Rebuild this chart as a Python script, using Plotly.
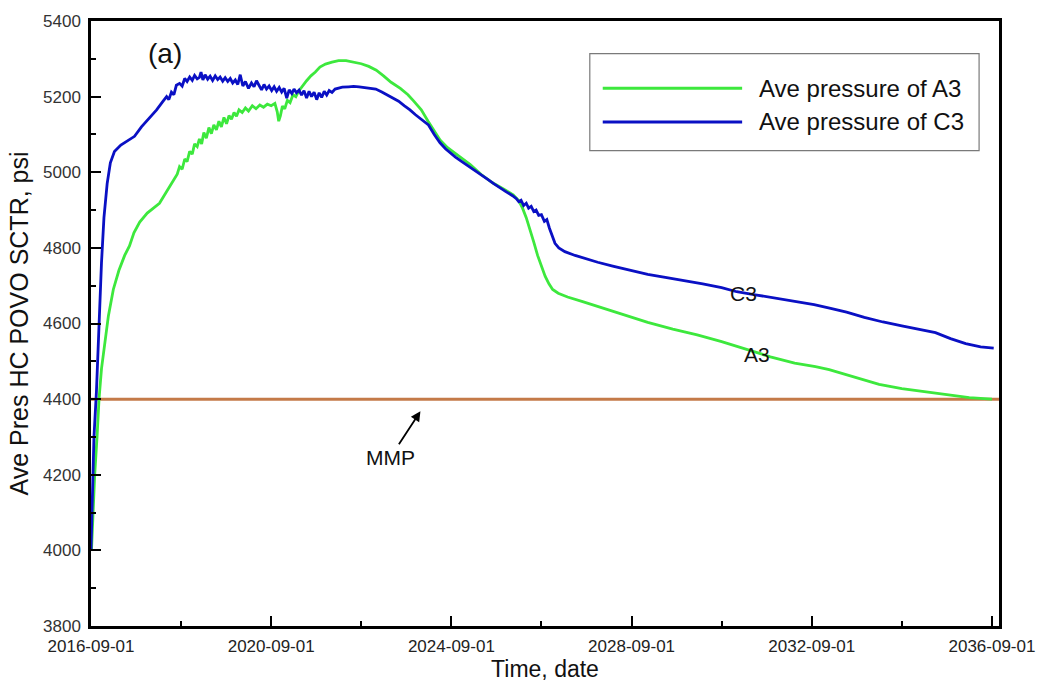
import plotly.graph_objects as go

# ---------------- data ----------------
c3_dates = [
    "2016-09-01", "2016-09-10", "2016-09-25", "2016-10-15", "2016-11-05", "2016-11-25",
    "2016-12-15", "2017-01-10", "2017-02-05", "2017-03-10", "2017-05-01", "2017-07-01",
    "2017-08-20", "2017-10-15", "2017-12-20", "2018-02-15", "2018-04-01", "2018-05-07",
    "2018-05-25", "2018-06-15", "2018-07-05", "2018-07-25", "2018-08-20", "2018-09-10",
    "2018-10-01", "2018-10-20", "2018-11-10", "2018-12-01", "2018-12-20", "2019-01-10",
    "2019-01-28", "2019-02-10", "2019-02-25", "2019-03-15", "2019-04-05", "2019-04-25",
    "2019-05-15", "2019-06-05", "2019-06-25", "2019-07-15", "2019-08-05", "2019-08-25",
    "2019-09-15", "2019-10-05", "2019-10-25", "2019-11-15", "2019-12-05", "2019-12-25",
    "2020-01-15", "2020-02-05", "2020-03-01", "2020-03-25", "2020-04-15", "2020-05-05",
    "2020-05-25", "2020-06-15", "2020-07-05", "2020-07-25", "2020-08-15", "2020-09-05",
    "2020-09-25", "2020-10-15", "2020-11-05", "2020-11-25", "2020-12-15", "2021-01-05",
    "2021-01-25", "2021-02-15", "2021-03-05", "2021-03-25", "2021-04-15", "2021-05-05",
    "2021-05-25", "2021-06-15", "2021-07-05", "2021-07-25", "2021-08-15", "2021-09-05",
    "2021-09-25", "2021-10-15", "2021-11-05", "2021-11-25", "2021-12-15", "2022-01-07",
    "2022-02-01", "2022-03-01", "2022-04-01", "2022-05-22", "2022-07-01", "2022-08-15",
    "2022-10-01", "2022-11-15", "2022-12-28", "2023-02-15", "2023-04-01", "2023-05-15",
    "2023-07-01", "2023-08-15", "2023-10-01", "2023-11-15", "2024-01-01", "2024-02-28",
    "2024-04-15", "2024-06-01", "2024-07-15", "2024-08-25", "2024-10-04", "2024-11-25",
    "2025-01-20", "2025-03-10", "2025-05-01", "2025-06-20", "2025-08-10", "2025-10-01",
    "2025-11-20", "2026-01-10", "2026-02-10", "2026-03-01", "2026-03-20", "2026-04-10",
    "2026-05-01", "2026-05-20", "2026-06-10", "2026-07-01", "2026-07-20", "2026-08-10",
    "2026-09-01", "2026-09-25", "2026-10-15", "2026-11-05", "2026-11-25", "2026-12-20",
    "2027-01-20", "2027-03-10", "2027-06-01", "2027-09-01", "2027-12-01", "2028-04-01",
    "2028-09-01", "2029-01-10", "2029-06-01", "2029-11-01", "2030-04-01", "2030-09-01",
    "2031-01-01", "2031-06-01", "2031-11-01", "2032-04-01", "2032-09-20", "2033-02-01",
    "2033-06-10", "2033-11-01", "2034-04-01", "2034-09-01", "2035-02-01", "2035-06-01",
    "2035-10-01", "2036-02-01", "2036-06-01", "2036-09-15",
]
c3_pressure = [
    4000, 4150, 4300, 4420, 4600, 4760,
    4880, 4970, 5025, 5055, 5072, 5085,
    5095, 5120, 5143, 5165, 5185, 5200,
    5192, 5212, 5205, 5230, 5235, 5228,
    5248, 5240, 5252, 5243, 5256, 5247,
    5251, 5265, 5244, 5258, 5246, 5254,
    5243, 5255, 5245, 5252, 5241, 5250,
    5240, 5248, 5236, 5244, 5232, 5258,
    5228, 5240, 5222, 5236, 5226, 5242,
    5230, 5218, 5232, 5220, 5228, 5216,
    5226, 5214, 5224, 5212, 5222, 5196,
    5218, 5208, 5220, 5210, 5217, 5204,
    5216, 5196, 5214, 5200, 5212, 5192,
    5210, 5198, 5214, 5204, 5216, 5211,
    5220, 5222, 5225, 5226, 5227, 5226,
    5224, 5223, 5220, 5212, 5204, 5198,
    5188, 5176, 5165, 5152, 5140, 5125,
    5100, 5078, 5062, 5050, 5040, 5028,
    5016, 5004, 4994, 4982, 4970, 4958,
    4948, 4938, 4930, 4922, 4926, 4912,
    4918, 4905, 4910, 4896, 4900, 4886,
    4888, 4870, 4875, 4852, 4835, 4812,
    4800, 4790, 4780, 4770, 4762, 4752,
    4740, 4730, 4722, 4714, 4705, 4695,
    4684, 4676, 4668, 4660, 4650, 4640,
    4630, 4616, 4604, 4594, 4585, 4576,
    4560, 4547, 4538, 4535,
]

a3_dates = [
    "2016-09-05", "2016-09-15", "2016-10-01", "2016-10-20", "2016-11-05", "2016-11-25",
    "2016-12-20", "2017-01-20", "2017-03-01", "2017-04-15", "2017-06-01", "2017-07-10",
    "2017-08-15", "2017-10-01", "2017-12-01", "2018-01-20", "2018-03-10", "2018-04-20",
    "2018-06-01", "2018-07-01", "2018-08-01", "2018-08-20", "2018-09-10", "2018-10-01",
    "2018-10-20", "2018-11-10", "2018-12-01", "2018-12-20", "2019-01-10", "2019-01-28",
    "2019-02-15", "2019-03-05", "2019-03-25", "2019-04-15", "2019-05-05", "2019-05-25",
    "2019-06-15", "2019-07-05", "2019-07-25", "2019-08-15", "2019-09-05", "2019-09-25",
    "2019-10-15", "2019-11-05", "2019-11-25", "2019-12-15", "2020-01-10", "2020-02-05",
    "2020-03-01", "2020-04-01", "2020-05-01", "2020-06-01", "2020-07-01", "2020-08-01",
    "2020-09-01", "2020-10-01", "2020-10-20", "2020-11-01", "2020-11-15", "2020-12-01",
    "2020-12-20", "2021-01-10", "2021-02-01", "2021-02-25", "2021-03-20", "2021-04-13",
    "2021-05-15", "2021-06-15", "2021-07-20", "2021-08-25", "2021-10-01", "2021-11-15",
    "2022-01-07", "2022-03-01", "2022-05-01", "2022-07-01", "2022-09-01", "2022-11-01",
    "2023-01-01", "2023-03-01", "2023-05-01", "2023-07-15", "2023-09-15", "2023-11-01",
    "2024-01-01", "2024-02-25", "2024-04-15", "2024-06-01", "2024-08-01", "2024-10-04",
    "2024-12-01", "2025-02-01", "2025-05-01", "2025-08-01", "2025-11-01", "2026-01-15",
    "2026-03-01", "2026-04-01", "2026-05-01", "2026-06-01", "2026-07-01", "2026-08-01",
    "2026-09-01", "2026-10-01", "2026-11-01", "2026-12-01", "2027-01-15", "2027-04-01",
    "2027-08-01", "2027-12-01", "2028-06-01", "2029-01-10", "2029-08-01", "2030-02-15",
    "2030-09-01", "2031-03-20", "2031-10-01", "2032-04-15", "2032-10-01", "2033-01-20",
    "2033-06-01", "2033-09-01", "2034-03-01", "2034-09-01", "2035-04-10", "2035-10-01",
    "2036-03-01", "2036-09-01",
]
a3_pressure = [
    4000, 4100, 4200, 4300, 4400, 4480,
    4540, 4620, 4690, 4740, 4780, 4805,
    4840, 4868, 4892, 4905, 4918, 4940,
    4962, 4978, 4995, 5015, 5008, 5035,
    5028, 5055, 5048, 5075, 5068, 5088,
    5075, 5105, 5090, 5118, 5102, 5125,
    5112, 5135, 5120, 5145, 5128, 5150,
    5140, 5158, 5148, 5165, 5158, 5170,
    5162, 5176, 5168, 5178, 5172, 5180,
    5176, 5182, 5160, 5135, 5150, 5175,
    5168, 5190, 5184, 5205, 5200, 5215,
    5230, 5242, 5255, 5265, 5278, 5286,
    5291, 5295, 5295, 5292, 5287, 5280,
    5270, 5255, 5238, 5222, 5205, 5188,
    5165, 5135, 5108, 5085, 5065, 5050,
    5035, 5020, 4994, 4972, 4955, 4940,
    4925, 4905, 4880, 4850, 4815, 4780,
    4750, 4725, 4705, 4690, 4680, 4670,
    4658, 4645, 4625, 4603, 4585, 4570,
    4552, 4531, 4512, 4495, 4486, 4478,
    4465, 4455, 4439, 4428, 4418, 4410,
    4404, 4400,
]

mmp_dates = ["2016-09-01", "2036-10-28"]
mmp_pressure = [4400, 4400]

x_tick_vals = ["2016-09-01", "2020-09-01", "2024-09-01", "2028-09-01", "2032-09-01", "2036-09-01"]
x_tick_text = ["2016-09-01", "2020-09-01", "2024-09-01", "2028-09-01", "2032-09-01", "2036-09-01"]
x_minor_vals = ["2018-09-01", "2022-09-01", "2026-09-01", "2030-09-01", "2034-09-01"]

series_names = ["Ave pressure of A3", "Ave pressure of C3"]

# ---------------- styles ----------------
GREEN = "#3DE83D"
BLUE = "#0A10C4"
BROWN = "#C47A48"
FONT = "Arial, Liberation Sans, sans-serif"

fig = go.Figure()
fig.add_trace(go.Scatter(x=mmp_dates, y=mmp_pressure, mode="lines", name="MMP",
                         line=dict(color=BROWN, width=3), showlegend=False))
fig.add_trace(go.Scatter(x=a3_dates, y=a3_pressure, mode="lines", name=series_names[0],
                         line=dict(color=GREEN, width=2.8), showlegend=False))
fig.add_trace(go.Scatter(x=c3_dates, y=c3_pressure, mode="lines", name=series_names[1],
                         line=dict(color=BLUE, width=2.8), showlegend=False))

L, R, T, B = 91, 44, 15, 63
W, H = 1047, 689
pw, ph = W - L - R, H - T - B


def px(xp):
    return (xp - L) / pw


def py(yp):
    return 1 - (yp - T) / ph


shapes = [
    dict(type="rect", xref="paper", yref="paper", x0=px(592), x1=px(983), y0=py(146), y1=py(48),
         line=dict(color="#7a7a7a", width=1.2), fillcolor="white", layer="above"),
    dict(type="line", xref="paper", yref="paper", x0=px(605), x1=px(745), y0=py(83), y1=py(83),
         line=dict(color=GREEN, width=3)),
    dict(type="line", xref="paper", yref="paper", x0=px(605), x1=px(745), y0=py(117), y1=py(117),
         line=dict(color=BLUE, width=3)),
]

annotations = [
    dict(xref="paper", yref="paper", x=px(760), y=py(83), xanchor="left", yanchor="middle",
         text=series_names[0], showarrow=False, font=dict(size=24, color="#111", family=FONT)),
    dict(xref="paper", yref="paper", x=px(760), y=py(117), xanchor="left", yanchor="middle",
         text=series_names[1], showarrow=False, font=dict(size=24, color="#111", family=FONT)),
    dict(xref="paper", yref="paper", x=px(165), y=py(48), xanchor="center", yanchor="middle",
         text="(a)", showarrow=False, font=dict(size=28, color="#111", family=FONT)),
    dict(x="2023-12-25", y=4368, text="MMP", showarrow=True, arrowhead=2, arrowsize=1.1,
         arrowwidth=1.8, arrowcolor="black", ax=-30, ay=46,
         font=dict(size=21, color="#111", family=FONT)),
    dict(x="2031-03-01", y=4680, text="C3", showarrow=False,
         font=dict(size=21, color="#111", family=FONT)),
    dict(x="2031-06-15", y=4517, text="A3", showarrow=False,
         font=dict(size=21, color="#111", family=FONT)),
]

fig.update_layout(
    width=W, height=H,
    margin=dict(l=L, r=R, t=T, b=B, pad=0),
    paper_bgcolor="white", plot_bgcolor="white",
    font=dict(family=FONT, color="#222"),
    shapes=shapes, annotations=annotations,
    showlegend=False,
)
fig.update_xaxes(
    range=["2016-09-01", "2036-10-28"],
    tickmode="array", tickvals=x_tick_vals, ticktext=x_tick_text,
    ticks="inside", ticklen=10, tickwidth=2, tickcolor="black",
    minor=dict(tickmode="array", tickvals=x_minor_vals, ticks="inside", ticklen=5,
               tickwidth=2, tickcolor="black", showgrid=False),
    showline=True, linewidth=2.5, linecolor="black", mirror=True,
    showgrid=False, zeroline=False, ticklabelstandoff=3,
    tickfont=dict(size=17, color="#222", family=FONT),
    title=dict(text="Time, date", font=dict(size=23, color="#111", family=FONT), standoff=2),
)
fig.update_yaxes(
    range=[3800, 5400], dtick=200, tick0=3800,
    ticks="inside", ticklen=10, tickwidth=2, tickcolor="black",
    minor=dict(dtick=100, ticks="inside", ticklen=5, tickwidth=2, tickcolor="black",
               showgrid=False),
    showline=True, linewidth=2.5, linecolor="black", mirror=True,
    showgrid=False, zeroline=False, ticklabelstandoff=4,
    tickfont=dict(size=17, color="#333", family=FONT),
    title=dict(text="Ave Pres HC POVO SCTR, psi",
               font=dict(size=25, color="#111", family=FONT), standoff=8),
)

fig.write_html("out.html")
